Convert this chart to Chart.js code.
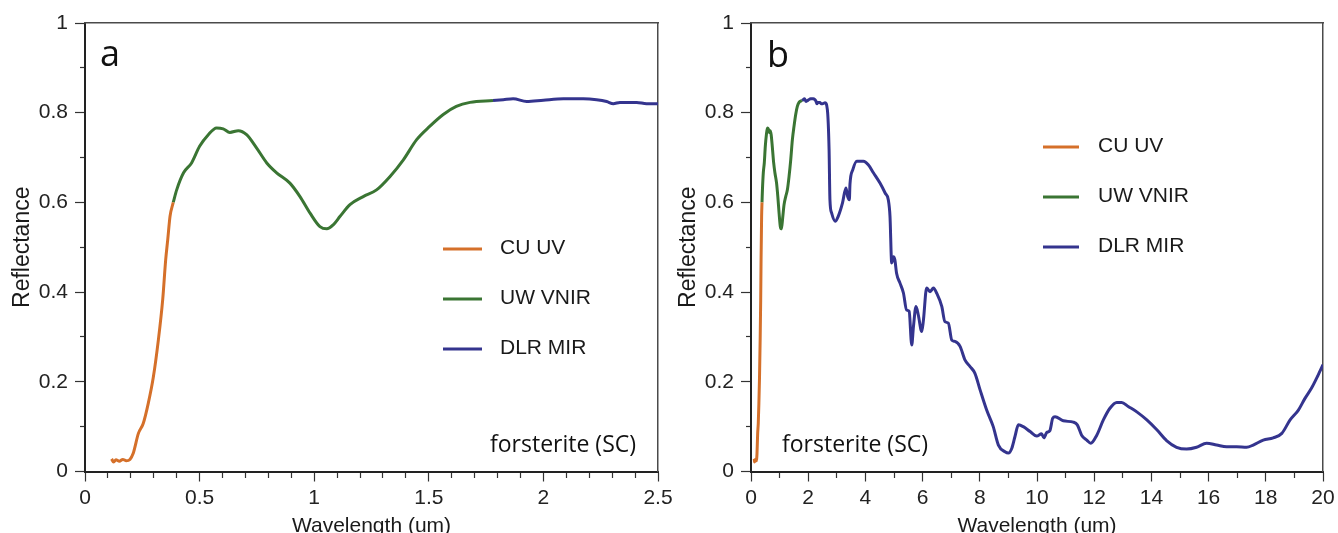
<!DOCTYPE html>
<html>
<head>
<meta charset="utf-8">
<script src="https://cdn.jsdelivr.net/npm/chart.js@4.4.1/dist/chart.umd.min.js"></script>
<style>
  html, body { margin: 0; padding: 0; background: #fff; }
  #wrap { position: relative; width: 1338px; height: 533px; overflow: hidden; }
  #wrap canvas { position: absolute; left: 0; top: 0; }
</style>
</head>
<body>
<div id="wrap">
  <canvas id="chart-a" width="1338" height="533"></canvas>
  <canvas id="chart-b" width="1338" height="533"></canvas>
</div>
<script>
// spectre CU UV
const uvWave = [0.116, 0.125, 0.135, 0.15, 0.165, 0.18, 0.196, 0.21, 0.233, 0.254, 0.276, 0.298, 0.32, 0.339, 0.352, 0.361, 0.371, 0.385];
const uvRefl = [0.028, 0.021, 0.026, 0.023, 0.027, 0.024, 0.027, 0.040, 0.085, 0.107, 0.152, 0.210, 0.293, 0.383, 0.472, 0.517, 0.569, 0.600];

// spectre UW VNIR
const vnirWave = [0.385, 0.40, 0.43, 0.465, 0.50, 0.538, 0.574, 0.603, 0.632, 0.669, 0.705, 0.749, 0.793, 0.836, 0.894, 0.938, 0.982, 1.025, 1.055, 1.083, 1.113, 1.156, 1.214, 1.272, 1.331, 1.389, 1.447, 1.505, 1.563, 1.62, 1.68, 1.78];
const vnirRefl = [0.600, 0.628, 0.666, 0.688, 0.725, 0.751, 0.766, 0.764, 0.756, 0.760, 0.751, 0.721, 0.688, 0.666, 0.643, 0.613, 0.576, 0.546, 0.541, 0.550, 0.569, 0.595, 0.613, 0.628, 0.658, 0.695, 0.740, 0.770, 0.796, 0.814, 0.823, 0.827];

// spectre DLR MIR
const mirWave = [1.78, 1.825, 1.868, 1.927, 2.0, 2.087, 2.174, 2.232, 2.276, 2.305, 2.334, 2.407, 2.45, 2.5,
  2.59, 2.67, 2.73, 2.76, 2.82, 2.94, 3.05, 3.2, 3.32, 3.38, 3.44, 3.46, 3.56, 3.7, 3.93, 4.1, 4.28, 4.51, 4.69, 4.8,
  4.86, 4.92, 4.98, 5.03, 5.09, 5.21, 5.33, 5.44, 5.53, 5.62,
  5.68, 5.77, 5.85, 5.97, 6.03, 6.14, 6.26, 6.38, 6.49, 6.67,
  6.78, 6.9, 7.02, 7.13, 7.31, 7.48, 7.66, 7.83, 8.01, 8.24,
  8.47, 8.65, 8.88, 9.0, 9.12, 9.23, 9.35, 9.52, 9.76, 9.99,
  10.16, 10.24, 10.34, 10.45, 10.55, 10.63, 10.92, 11.27, 11.41, 11.56,
  11.74, 11.88, 12.09, 12.32, 12.55, 12.79, 12.96, 13.19, 13.49, 13.84,
  14.19, 14.53, 14.88, 15.23, 15.58, 15.93, 16.28, 16.63, 16.98, 17.33,
  17.56, 17.91, 18.26, 18.56, 18.85, 19.14, 19.37, 19.6, 19.83, 20.0];
const mirRefl = [0.827, 0.829, 0.831, 0.825, 0.828, 0.831, 0.831, 0.829, 0.825, 0.820, 0.823, 0.823, 0.820, 0.820,
  0.822, 0.807, 0.718, 0.606, 0.576, 0.558, 0.569, 0.599, 0.632, 0.613, 0.606, 0.640, 0.673, 0.692, 0.692, 0.684, 0.666, 0.643, 0.621, 0.606,
  0.569, 0.465, 0.479, 0.472, 0.442, 0.420, 0.398, 0.360, 0.357, 0.282,
  0.323, 0.368, 0.349, 0.312, 0.338, 0.409, 0.401, 0.409, 0.398, 0.368,
  0.334, 0.331, 0.293, 0.290, 0.279, 0.249, 0.234, 0.219, 0.182, 0.137,
  0.100, 0.059, 0.044, 0.041, 0.052, 0.078, 0.104, 0.100, 0.089, 0.079,
  0.084, 0.075, 0.087, 0.091, 0.119, 0.122, 0.113, 0.110, 0.104, 0.081,
  0.070, 0.063, 0.081, 0.115, 0.141, 0.154, 0.154, 0.145, 0.133, 0.115,
  0.093, 0.069, 0.054, 0.050, 0.054, 0.063, 0.059, 0.055, 0.055, 0.054,
  0.059, 0.070, 0.075, 0.085, 0.115, 0.137, 0.163, 0.186, 0.215, 0.238];

const seriesLabels = ['CU UV', 'UW VNIR', 'DLR MIR'];
const seriesColors = ['#d5702a', '#3a7533', '#34348e'];
const sampleName = 'forsterite (SC)';

Chart.defaults.font.family = "'Liberation Sans', Arial, sans-serif";
Chart.defaults.font.size = 21;
Chart.defaults.color = '#222';

function serie(i, xs, ys) {
    return {
        label: seriesLabels[i],
        data: xs.map((x, k) => ({ x: x, y: ys[k] })),
        borderColor: seriesColors[i],
        backgroundColor: seriesColors[i],
        borderWidth: 3,
        pointRadius: 0,
        cubicInterpolationMode: 'monotone',
        fill: false
    };
}

function isMajor(value, step) {
    let r = value / step;
    return Math.abs(r - Math.round(r)) < 1e-6;
}

function tickLabel(value, step) {
    return isMajor(value, step) ? String(Math.round(value * 10) / 10) : '';
}

// textes dans le cadre : lettre du panneau, échantillon, légende
const notesPlugin = {
    id: 'notes',
    afterDraw(chart, args, opts) {
        const ctx = chart.ctx;
        const area = chart.chartArea;
        ctx.save();
        ctx.fillStyle = '#111';
        ctx.textBaseline = 'alphabetic';
        ctx.textAlign = 'left';
        ctx.font = "36px 'Open Sans'";
        ctx.fillText(opts.letter, area.left + opts.letterDx, area.top + opts.letterDy);

        ctx.font = "23px 'Open Sans'";
        let sx = opts.sampleFromRight ? area.right - opts.sampleDx : area.left + opts.sampleDx;
        ctx.fillText(sampleName, sx, area.bottom - 19.5);

        ctx.font = "21px 'Liberation Sans', Arial, sans-serif";
        ctx.textBaseline = 'middle';
        chart.data.datasets.forEach((ds, i) => {
            let y = area.top + opts.legendDy + i * 50;
            let x0 = area.right - opts.legendDx;
            ctx.strokeStyle = ds.borderColor;
            ctx.lineWidth = 3;
            ctx.beginPath();
            ctx.moveTo(x0, y + 1);
            ctx.lineTo(x0 + opts.legendLine, y + 1);
            ctx.stroke();
            ctx.fillStyle = '#1a1a1a';
            ctx.fillText(ds.label, x0 + opts.legendLine + opts.legendGap, y);
        });
        ctx.restore();
    }
};

function buildPanel(canvasId, p) {
    return new Chart(document.getElementById(canvasId), {
        type: 'line',
        data: {
            datasets: [
                serie(0, uvWave, uvRefl),
                serie(1, vnirWave, vnirRefl),
                serie(2, mirWave, mirRefl)
            ]
        },
        plugins: [notesPlugin],
        options: {
            responsive: false,
            animation: false,
            layout: { padding: { left: p.padLeft, right: p.padRight, top: 23, bottom: 0 } },
            plugins: {
                legend: { display: false },
                tooltip: { enabled: false },
                notes: p.notes
            },
            scales: {
                x: {
                    type: 'linear',
                    position: 'bottom',
                    min: 0,
                    max: p.xMax,
                    afterFit: (s) => { s.height = 61.5; s.paddingLeft = 0; s.paddingRight = 0; },
                    ticks: {
                        stepSize: p.xStep,
                        maxTicksLimit: 40,
                        autoSkip: false,
                        maxRotation: 0,
                        minRotation: 0,
                        padding: 4,
                        color: '#222',
                        callback: (v) => tickLabel(v, p.xMajor)
                    },
                    grid: {
                        drawOnChartArea: false,
                        drawTicks: true,
                        tickLength: 10,
                        tickColor: '#333',
                        tickWidth: 1.2,
                        tickBorderDash: (c) => isMajor(c.tick.value, p.xMajor) ? [] : [5, 50]
                    },
                    border: { color: '#222', width: 2 },
                    title: {
                        display: true,
                        text: 'Wavelength (um)',
                        color: '#1a1a1a',
                        font: { size: 21 },
                        padding: { top: 0, bottom: -6 }
                    }
                },
                y: {
                    type: 'linear',
                    position: 'left',
                    min: 0,
                    max: 1,
                    afterFit: (s) => { s.width = p.yWidth; s.paddingTop = 0; s.paddingBottom = 0; },
                    ticks: {
                        stepSize: 0.1,
                        maxTicksLimit: 40,
                        autoSkip: false,
                        padding: 7,
                        color: '#222',
                        callback: (v) => tickLabel(v, 0.2)
                    },
                    grid: {
                        drawOnChartArea: false,
                        drawTicks: true,
                        tickLength: 10,
                        tickColor: '#333',
                        tickWidth: 1.2,
                        tickBorderDash: (c) => isMajor(c.tick.value, 0.2) ? [] : [5, 5],
                        tickBorderDashOffset: (c) => isMajor(c.tick.value, 0.2) ? 0 : 5
                    },
                    border: { color: '#222', width: 2 },
                    title: {
                        display: true,
                        text: 'Reflectance',
                        color: '#1a1a1a',
                        font: { size: 23 },
                        padding: { top: p.yTitlePad, bottom: 0 }
                    }
                },
                // bords haut et droit du cadre
                xTop: {
                    type: 'linear',
                    position: 'top',
                    min: 0,
                    max: p.xMax,
                    afterFit: (s) => { s.height = 0; s.paddingLeft = 0; s.paddingRight = 0; },
                    ticks: { display: false },
                    grid: { display: false },
                    border: { color: '#4a4a4a', width: 1.5 }
                },
                yRight: {
                    type: 'linear',
                    position: 'right',
                    min: 0,
                    max: 1,
                    afterFit: (s) => { s.width = 0; s.paddingTop = 0; s.paddingBottom = 0; },
                    ticks: { display: false },
                    grid: { display: false },
                    border: { color: '#4a4a4a', width: 1.5 }
                }
            }
        }
    });
}

window.onload = () => {
    // panneau a : 0 - 2.5 um
    buildPanel('chart-a', {
        padLeft: 0, padRight: 680, yWidth: 85, yTitlePad: 9,
        xMax: 2.5, xStep: 0.1, xMajor: 0.5,
        notes: {
            letter: 'a', letterDx: 15, letterDy: 43,
            sampleFromRight: true, sampleDx: 168,
            legendDx: 215, legendDy: 225, legendLine: 39, legendGap: 18
        }
    });
    // panneau b : 0 - 20 um
    buildPanel('chart-b', {
        padLeft: 669, padRight: 15, yWidth: 82, yTitlePad: 6,
        xMax: 20, xStep: 1, xMajor: 2,
        notes: {
            letter: 'b', letterDx: 16, letterDy: 44,
            sampleFromRight: false, sampleDx: 31,
            legendDx: 280, legendDy: 123, legendLine: 36, legendGap: 19
        }
    });
};
</script>
</body>
</html>
